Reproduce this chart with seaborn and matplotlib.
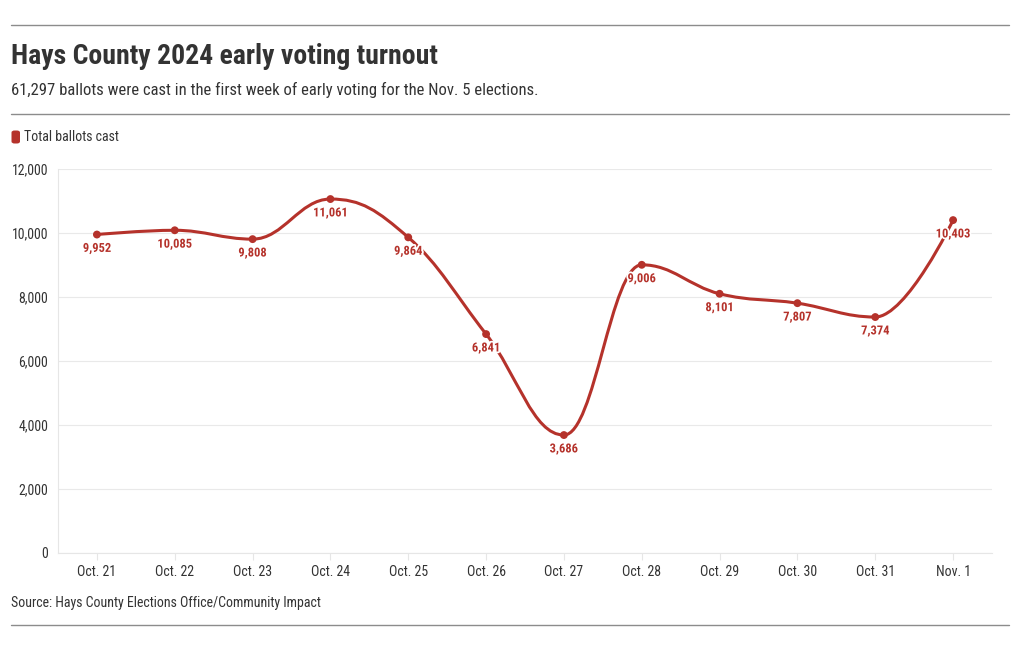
import matplotlib
matplotlib.use("Agg")
import matplotlib.pyplot as plt
import matplotlib.patheffects as pe
from matplotlib.path import Path
from matplotlib.patches import PathPatch, FancyBboxPatch
from matplotlib.lines import Line2D
import seaborn as sns
import pandas as pd
from matplotlib import font_manager

dates = ["Oct. 21", "Oct. 22", "Oct. 23", "Oct. 24", "Oct. 25", "Oct. 26",
         "Oct. 27", "Oct. 28", "Oct. 29", "Oct. 30", "Oct. 31", "Nov. 1"]
ballots = [9952, 10085, 9808, 11061, 9864, 6841, 3686, 9006, 8101, 7807, 7374, 10403]
y_ticks = [0, 2000, 4000, 6000, 8000, 10000, 12000]
series_name = "Total ballots cast"
title = "Hays County 2024 early voting turnout"
subtitle = "61,297 ballots were cast in the first week of early voting for the Nov. 5 elections."
source = "Source: Hays County Elections Office/Community Impact"

RED = "#b5322b"
DARK = "#333333"

sns.set_theme(style="white")
avail = {f.name for f in font_manager.fontManager.ttflist}
fam = [f for f in ["Roboto Condensed", "Liberation Sans Narrow", "Roboto", "DejaVu Sans"] if f in avail]
plt.rcParams["font.family"] = fam

df = pd.DataFrame({"x": range(len(dates)), "date": dates, "ballots": ballots})

fig = plt.figure(figsize=(10.2, 6.5), dpi=100)
ax = fig.add_axes([58 / 1020, 1 - 553 / 650, (992 - 58) / 1020, (553 - 169) / 650])

# Smooth spline path (Highcharts-style control points) through the data
xs = list(df["x"]); ys = list(df["ballots"])
n = len(xs)
s = 1.5; d = s + 1
lc = [None] * n; rc = [None] * n
for i in range(1, n - 1):
    x, y = xs[i], ys[i]
    lx, ly, nx, ny = xs[i - 1], ys[i - 1], xs[i + 1], ys[i + 1]
    lcx = (s * x + lx) / d; lcy = (s * y + ly) / d
    rcx = (s * x + nx) / d; rcy = (s * y + ny) / d
    corr = ((rcy - lcy) * (rcx - x)) / (rcx - lcx) + y - rcy
    lcy += corr; rcy += corr
    if lcy > ly and lcy > y:
        lcy = max(ly, y); rcy = 2 * y - lcy
    elif lcy < ly and lcy < y:
        lcy = min(ly, y); rcy = 2 * y - lcy
    if rcy > ny and rcy > y:
        rcy = max(ny, y); lcy = 2 * y - rcy
    elif rcy < ny and rcy < y:
        rcy = min(ny, y); lcy = 2 * y - rcy
    lc[i] = (lcx, lcy); rc[i] = (rcx, rcy)
verts = [(xs[0], ys[0])]; codes = [Path.MOVETO]
for i in range(1, n):
    c1 = rc[i - 1] if rc[i - 1] else (xs[i - 1], ys[i - 1])
    c2 = lc[i] if lc[i] else (xs[i], ys[i])
    verts += [c1, c2, (xs[i], ys[i])]
    codes += [Path.CURVE4] * 3
ax.add_patch(PathPatch(Path(verts, codes), facecolor="none", edgecolor=RED, lw=2.2,
                       capstyle="round", joinstyle="round", zorder=3))

sns.scatterplot(data=df, x="x", y="ballots", ax=ax, color=RED, s=32,
                edgecolor="none", zorder=4, legend=False)

for xi, yi in zip(xs, ys):
    ax.annotate(f"{yi:,}", (xi, yi), xytext=(0, -10), textcoords="offset points",
                ha="center", va="center", fontsize=9, fontweight="bold", color=RED,
                zorder=5, path_effects=[pe.withStroke(linewidth=2.5, foreground="white")])

ax.set_xlim(-0.5, n - 0.5)
ax.set_ylim(0, 12000)
ax.set_yticks(y_ticks)
ax.set_yticklabels([f"{v:,}" for v in y_ticks])
ax.set_xticks(range(n))
ax.set_xticklabels(dates)
ax.set_xlabel(""); ax.set_ylabel("")
ax.grid(axis="y", color="#e9e9e9", lw=0.8)
ax.grid(axis="x", visible=False)
for sp in ["top", "right"]:
    ax.spines[sp].set_visible(False)
ax.spines["left"].set_color("#e6e6e6"); ax.spines["left"].set_linewidth(0.8)
ax.spines["bottom"].set_color("#e6e6e6"); ax.spines["bottom"].set_linewidth(0.8)
ax.tick_params(axis="y", length=0, pad=7, labelsize=10, labelcolor=DARK)
ax.tick_params(axis="x", length=5, width=0.8, color="#e6e6e6", pad=4, labelsize=10,
               labelcolor=DARK, bottom=True)

# Header / footer
for yy in [25, 114, 625]:
    fig.add_artist(Line2D([11 / 1020, 1009 / 1020], [1 - yy / 650] * 2, color="#8c8c8c", lw=1.0))
fig.text(11 / 1020, 1 - 56 / 650, title, fontsize=20, fontweight="bold", color=DARK,
         va="center", ha="left")
fig.text(11 / 1020, 1 - 90 / 650, subtitle, fontsize=12, color=DARK, va="center", ha="left")
fig.add_artist(FancyBboxPatch((11.5 / 1020, 1 - 143.5 / 650), 8.5 / 1020, 13 / 650,
                              boxstyle="round,pad=0,rounding_size=0.003",
                              transform=fig.transFigure, facecolor=RED, edgecolor="none"))
fig.text(24 / 1020, 1 - 137 / 650, series_name, fontsize=10, color=DARK, va="center", ha="left")
fig.text(11 / 1020, 1 - 603 / 650, source, fontsize=10, color=DARK, va="center", ha="left")

fig.savefig("out.png", dpi=100, facecolor="white")
